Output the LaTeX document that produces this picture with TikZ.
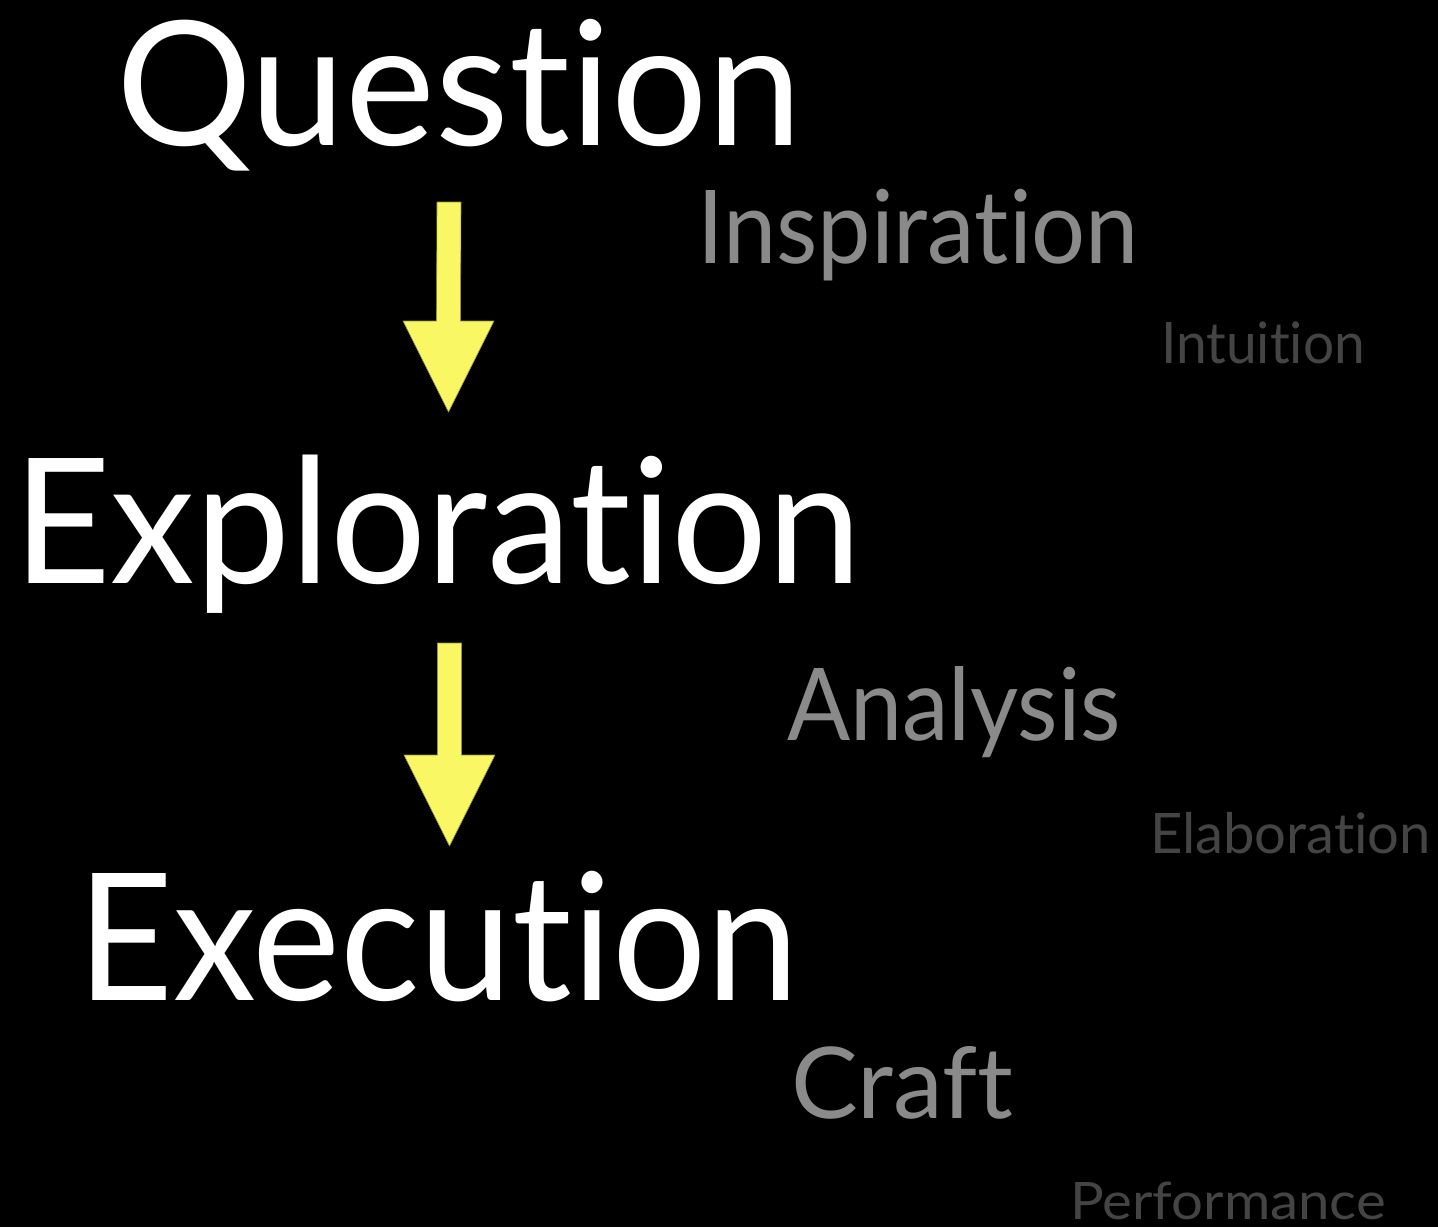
\documentclass[tikz,border=0pt]{standalone}
\usepackage{fontspec}
\setmainfont{Lato}[Ligatures={NoCommon}]
\usepackage{graphicx}
\usetikzlibrary{calc}
\definecolor{bgblack}{RGB}{0,0,0}
\definecolor{mainwhite}{RGB}{255,255,255}
\definecolor{midgrey}{RGB}{138,138,138}
\definecolor{darkgrey}{RGB}{68,68,68}
\definecolor{arrowyellow}{RGB}{250,247,100}
\newcommand\fitword[3]{\resizebox{#1}{#2}{\smash{#3}\rule{0pt}{\fontcharht\font`H}}}
\tikzset{
  word/.style={inner sep=0pt, outer sep=0pt, anchor=base west, font=\fontsize{100}{100}\selectfont},
  mainword/.style={word, text=mainwhite},
  subword/.style={word, text=midgrey},
  faintword/.style={word, text=darkgrey},
  bigarrow/.style={fill=arrowyellow, draw=arrowyellow!60!black, line width=0.6pt, line join=miter}
}
\begin{document}
\begin{tikzpicture}[x=1pt,y=-1pt]
\fill[bgblack] (0,0) rectangle (1438,1227);
\useasboundingbox (0,0) rectangle (1438,1227);

\node[mainword] (question) at (116,145) {\fitword{686pt}{124pt}{Question}};
\node[mainword] (exploration) at (13,583) {\fitword{849pt}{125pt}{Exploration}};
\node[mainword] (execution) at (77,1000) {\fitword{722pt}{127pt}{Execution}};

\node[subword] (inspiration) at (697,263) {\fitword{442pt}{73pt}{Inspiration}};
\node[faintword] (intuition) at (1161,363) {\fitword{204pt}{41pt}{Intuition}};
\node[subword] (analysis) at (787,740) {\fitword{334pt}{72pt}{Analysis}};
\node[faintword] (elaboration) at (1150,853) {\fitword{281pt}{40pt}{Elaboration}};
\node[subword] (craft) at (791,1118) {\fitword{222pt}{71pt}{Craft}};
\node[faintword] (performance) at (1070,1219) {\fitword{316pt}{37pt}{Performance}};

% arrows
\coordinate (a1top) at (449,202);
\coordinate (a1tip) at (448.5,412);
\coordinate (a2top) at (449.5,643);
\coordinate (a2tip) at (449.5,846);
\fill[bigarrow]
  ([xshift=-12pt]a1top) -- ([xshift=12pt]a1top)
  -- ([xshift=12pt,yshift=91pt]a1tip) -- ([xshift=45.5pt,yshift=91pt]a1tip)
  -- (a1tip)
  -- ([xshift=-45.5pt,yshift=91pt]a1tip) -- ([xshift=-12pt,yshift=91pt]a1tip) -- cycle;
\fill[bigarrow]
  ([xshift=-12pt]a2top) -- ([xshift=12pt]a2top)
  -- ([xshift=12pt,yshift=91pt]a2tip) -- ([xshift=45.5pt,yshift=91pt]a2tip)
  -- (a2tip)
  -- ([xshift=-45.5pt,yshift=91pt]a2tip) -- ([xshift=-12pt,yshift=91pt]a2tip) -- cycle;
\end{tikzpicture}
\end{document}
